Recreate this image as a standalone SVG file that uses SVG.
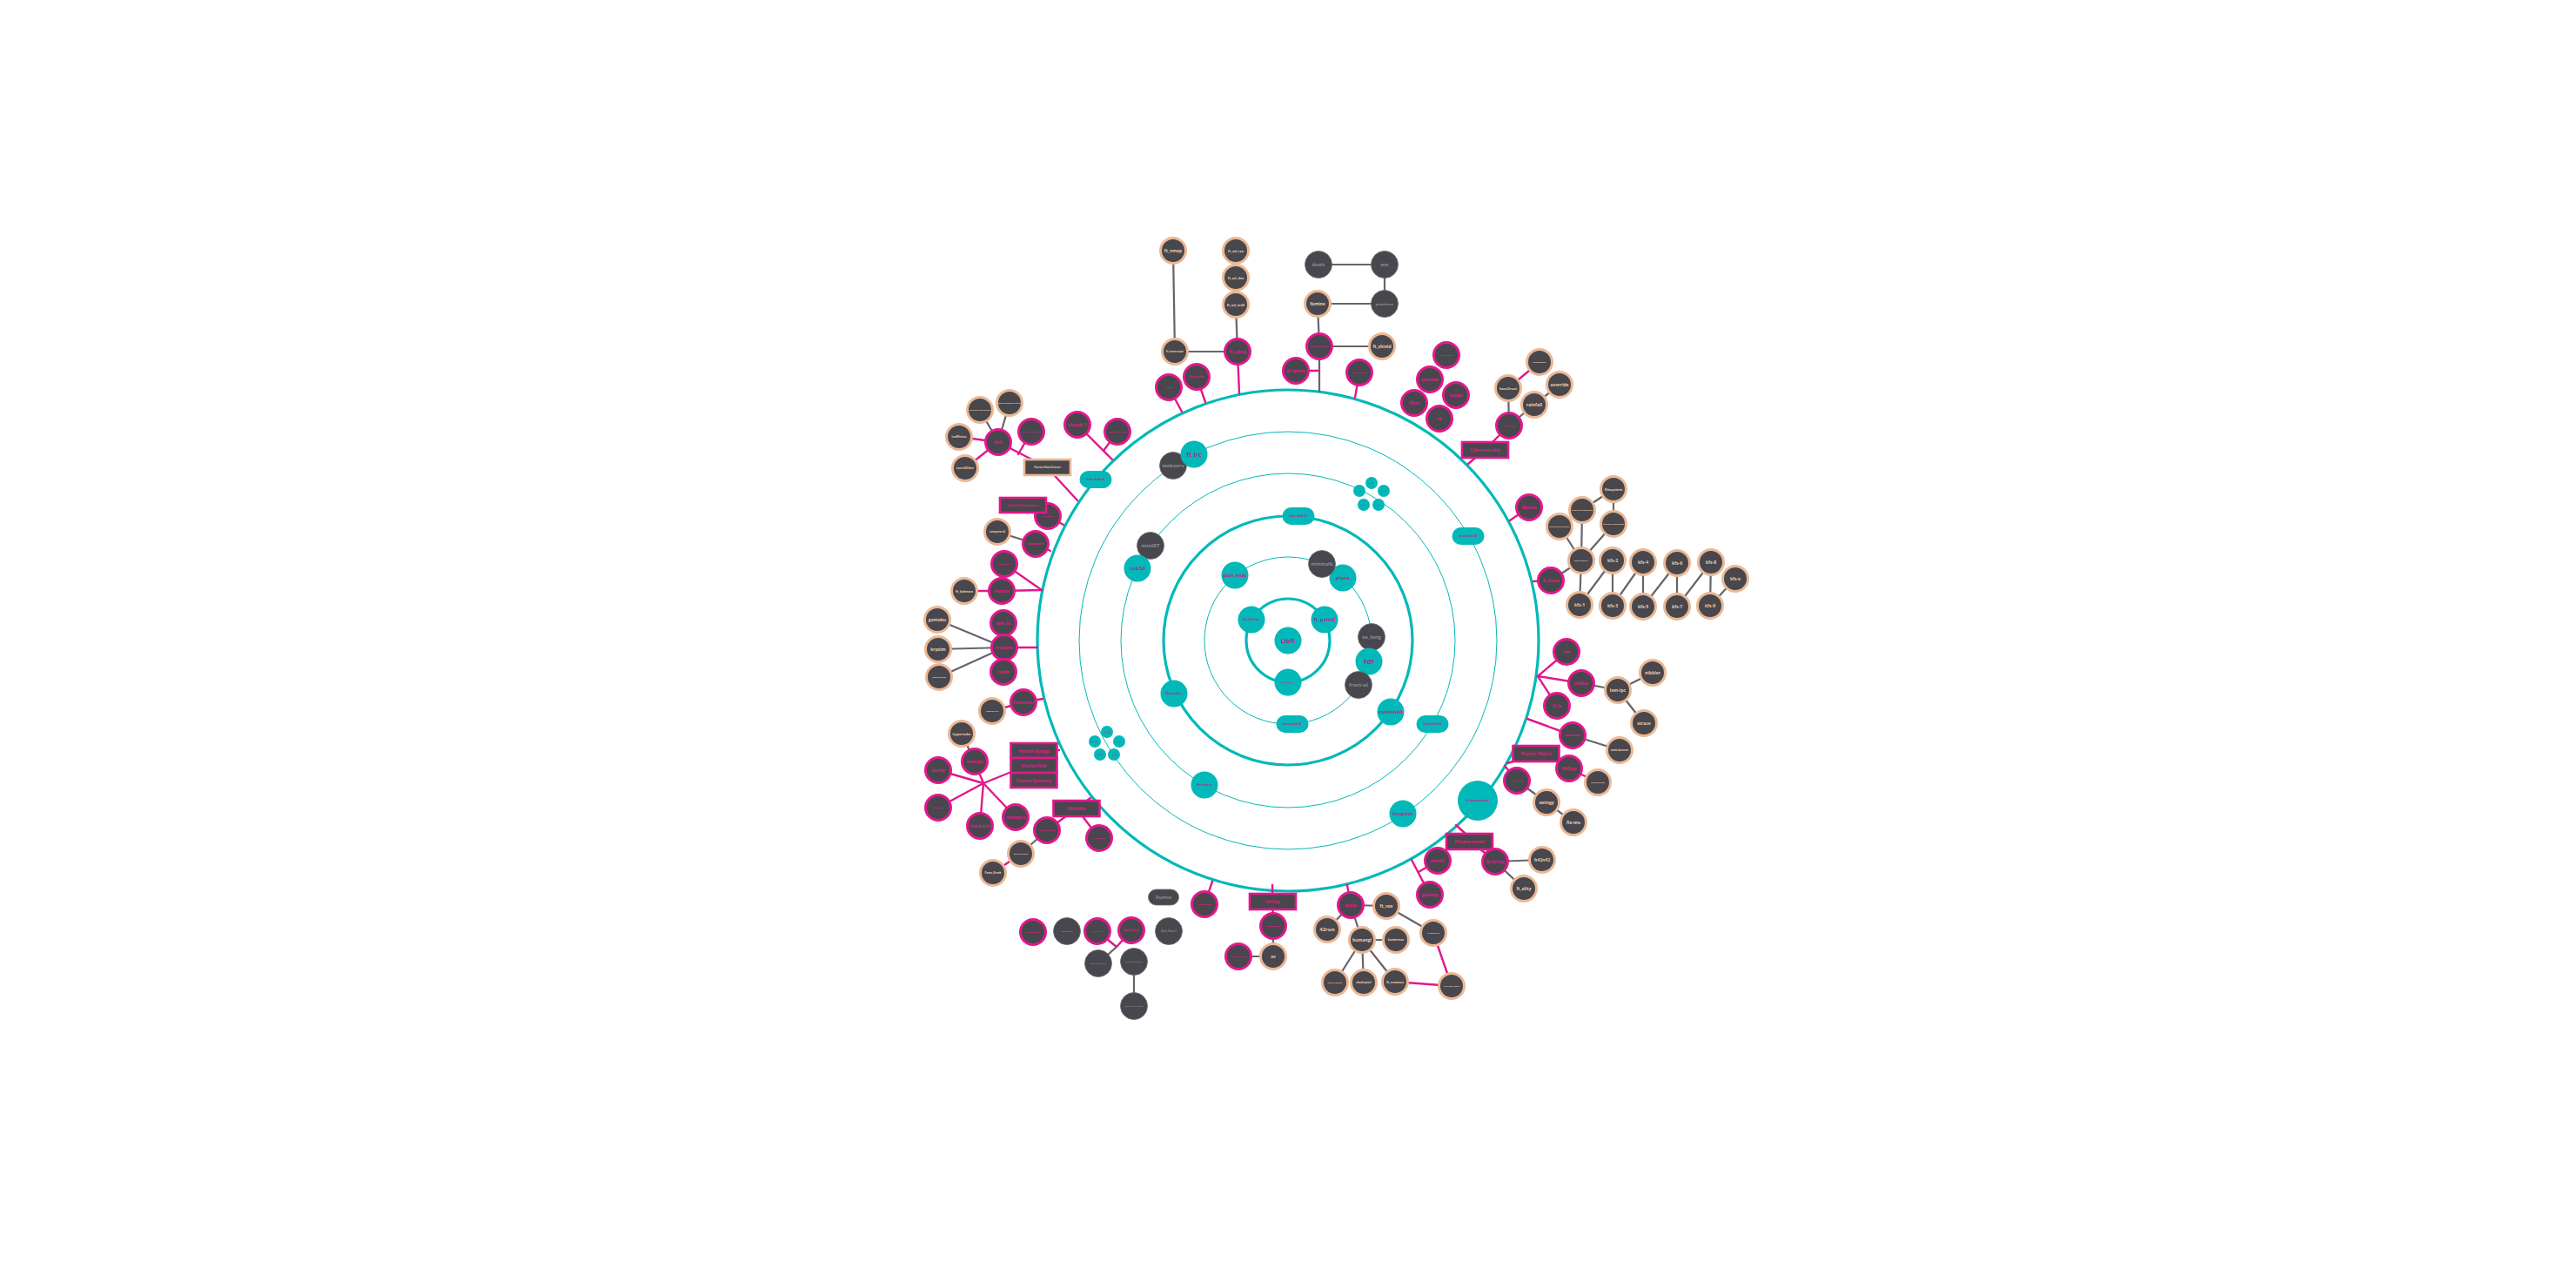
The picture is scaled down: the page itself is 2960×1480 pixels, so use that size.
<svg xmlns="http://www.w3.org/2000/svg" width="2960" height="1480" viewBox="0 0 2960 1480">
<style>
text{font-family:"Open Sans","Liberation Sans",sans-serif;font-weight:700;text-anchor:middle;dominant-baseline:central}
.bg{fill:#ffffff}
.ring{fill:none;stroke:#03b8b9}
.rk{stroke-width:3.2}
.rn{stroke-width:1}
.lp{stroke:#e2188c;stroke-width:2.4;fill:none;stroke-linecap:round}
.lg{stroke:#666569;stroke-width:2.2;fill:none;stroke-linecap:round}
.p{fill:#48474d;stroke:#e2188c;stroke-width:3}
.o{fill:#48474d;stroke:#ebb894;stroke-width:3}
.t{fill:#03b8b9}
.g{fill:#48474d;stroke:#6a696e;stroke-width:0.8}
.rp{fill:#48474d;stroke:#e2188c;stroke-width:2.6}
.ro{fill:#48474d;stroke:#ebb894;stroke-width:2.6}
.tp{fill:#e2188c}
.to{fill:#f0caa8}
.tt{fill:#c21a8a}
.tg{fill:#8d8c91}
.s7{font-size:7px}.s6{font-size:6px}.s5{font-size:5px}.s4{font-size:4px}.s3{font-size:3px}.s2{font-size:2.2px}
</style>
<rect class="bg" width="2960" height="1480"/>
<g id="rings">
<circle class="ring rk" cx="1480" cy="736" r="48"/>
<circle class="ring rn" cx="1480" cy="736" r="96"/>
<circle class="ring rk" cx="1480" cy="736" r="143"/>
<circle class="ring rn" cx="1480" cy="736" r="192"/>
<circle class="ring rn" cx="1480" cy="736" r="240"/>
<circle class="ring rk" cx="1480" cy="736" r="288"/>
</g>
<g id="connectors">
<!-- network -->
<line class="lg" x1="1348" y1="288" x2="1350" y2="404"/>
<line class="lg" x1="1350" y1="404" x2="1422" y2="404"/>
<line class="lg" x1="1420" y1="350" x2="1422" y2="404"/>
<line class="lp" x1="1422" y1="404" x2="1424" y2="452"/>
<line class="lp" x1="1343" y1="445" x2="1358" y2="473"/>
<line class="lp" x1="1375" y1="433" x2="1385" y2="462"/>
<!-- security -->
<line class="lg" x1="1515" y1="304" x2="1591" y2="304"/>
<line class="lg" x1="1591" y1="304" x2="1591" y2="349"/>
<line class="lg" x1="1514" y1="349" x2="1591" y2="349"/>
<line class="lg" x1="1514" y1="349" x2="1516" y2="398"/>
<line class="lg" x1="1516" y1="398" x2="1588" y2="398"/>
<line class="lg" x1="1516" y1="398" x2="1516" y2="450"/>
<line class="lp" x1="1489" y1="426" x2="1516" y2="426"/>
<line class="lp" x1="1562" y1="428" x2="1557" y2="457"/>
<!-- cybersecurity -->
<line class="lp" x1="1687" y1="533" x2="1706" y2="517"/>
<line class="lp" x1="1706" y1="517" x2="1734" y2="489"/>
<line class="lg" x1="1734" y1="489" x2="1733" y2="446"/>
<line class="lg" x1="1734" y1="489" x2="1763" y2="465"/>
<line class="lg" x1="1763" y1="465" x2="1792" y2="442"/>
<line class="lp" x1="1733" y1="446" x2="1769" y2="416"/>
<!-- kernel -->
<line class="lp" x1="1757" y1="583" x2="1735" y2="598"/>
<line class="lp" x1="1782" y1="667" x2="1762" y2="668"/>
<line class="lg" x1="1782" y1="667" x2="1817" y2="644"/>
<line class="lg" x1="1817" y1="644" x2="1792" y2="605"/>
<line class="lg" x1="1817" y1="644" x2="1818" y2="586"/>
<line class="lg" x1="1817" y1="644" x2="1854" y2="602"/>
<line class="lg" x1="1818" y1="586" x2="1854" y2="562"/>
<line class="lg" x1="1854" y1="562" x2="1854" y2="602"/>
<line class="lg" x1="1817" y1="644" x2="1815" y2="695"/>
<line class="lg" x1="1815" y1="695" x2="1853" y2="644"/>
<line class="lg" x1="1853" y1="644" x2="1853" y2="696"/>
<line class="lg" x1="1853" y1="696" x2="1888" y2="646"/>
<line class="lg" x1="1888" y1="646" x2="1888" y2="697"/>
<line class="lg" x1="1888" y1="697" x2="1927" y2="647"/>
<line class="lg" x1="1927" y1="647" x2="1927" y2="697"/>
<line class="lg" x1="1927" y1="697" x2="1966" y2="646"/>
<line class="lg" x1="1966" y1="646" x2="1965" y2="696"/>
<line class="lg" x1="1965" y1="696" x2="1994" y2="665"/>
<!-- unix -->
<line class="lp" x1="1767" y1="777" x2="1800" y2="749"/>
<line class="lp" x1="1767" y1="777" x2="1817" y2="785"/>
<line class="lp" x1="1767" y1="777" x2="1789" y2="811"/>
<line class="lg" x1="1817" y1="785" x2="1859" y2="793"/>
<line class="lg" x1="1859" y1="793" x2="1899" y2="773"/>
<line class="lg" x1="1859" y1="793" x2="1889" y2="831"/>
<line class="lp" x1="1755" y1="826" x2="1807" y2="845"/>
<line class="lg" x1="1807" y1="845" x2="1861" y2="862"/>
<!-- object / java -->
<line class="lp" x1="1732" y1="877" x2="1748" y2="872"/>
<line class="lp" x1="1790" y1="875" x2="1800" y2="880"/>
<line class="lp" x1="1803" y1="883" x2="1836" y2="899"/>
<line class="lp" x1="1729" y1="880" x2="1743" y2="897"/>
<line class="lg" x1="1743" y1="897" x2="1777" y2="922"/>
<line class="lg" x1="1777" y1="922" x2="1808" y2="945"/>
<!-- ocaml -->
<line class="lp" x1="1673" y1="948" x2="1684" y2="958"/>
<line class="lp" x1="1700" y1="975" x2="1718" y2="990"/>
<line class="lg" x1="1718" y1="990" x2="1772" y2="988"/>
<line class="lg" x1="1718" y1="990" x2="1751" y2="1021"/>
<!-- graphics -->
<line class="lp" x1="1622" y1="988" x2="1643" y2="1028"/>
<line class="lp" x1="1630" y1="1002" x2="1652" y2="989"/>
<line class="lp" x1="1548" y1="1017" x2="1552" y2="1040"/>
<line class="lg" x1="1552" y1="1040" x2="1593" y2="1041"/>
<line class="lg" x1="1552" y1="1040" x2="1525" y2="1068"/>
<line class="lg" x1="1552" y1="1040" x2="1565" y2="1080"/>
<line class="lg" x1="1565" y1="1080" x2="1604" y2="1080"/>
<line class="lg" x1="1565" y1="1080" x2="1534" y2="1129"/>
<line class="lg" x1="1565" y1="1080" x2="1567" y2="1129"/>
<line class="lg" x1="1565" y1="1080" x2="1603" y2="1128"/>
<line class="lg" x1="1593" y1="1041" x2="1647" y2="1072"/>
<line class="lp" x1="1647" y1="1072" x2="1668" y2="1133"/>
<line class="lp" x1="1603" y1="1128" x2="1668" y2="1133"/>
<!-- unity / open -->
<line class="lp" x1="1462" y1="1017" x2="1463" y2="1064"/>
<line class="lg" x1="1463" y1="1064" x2="1463" y2="1099"/>
<line class="lg" x1="1423" y1="1099" x2="1463" y2="1099"/>
<line class="lp" x1="1393" y1="1013" x2="1384" y2="1039"/>
<!-- internships -->
<line class="lp" x1="1261" y1="1070" x2="1283" y2="1088"/>
<line class="lp" x1="1300" y1="1069" x2="1283" y2="1088"/>
<line class="lg" x1="1283" y1="1088" x2="1262" y2="1107"/>
<line class="lg" x1="1303" y1="1105" x2="1303" y2="1156"/>
<!-- mobile -->
<line class="lp" x1="1253" y1="917" x2="1237" y2="929"/>
<line class="lp" x1="1237" y1="929" x2="1203" y2="954"/>
<line class="lp" x1="1237" y1="929" x2="1263" y2="963"/>
<line class="lg" x1="1203" y1="954" x2="1173" y2="981"/>
<line class="lp" x1="1173" y1="981" x2="1141" y2="1003"/>
<!-- web -->
<line class="lp" x1="1217" y1="862" x2="1188" y2="863"/>
<line class="lp" x1="1130" y1="900" x2="1162" y2="887"/>
<line class="lp" x1="1130" y1="900" x2="1078" y2="885"/>
<line class="lp" x1="1130" y1="900" x2="1120" y2="875"/>
<line class="lp" x1="1130" y1="900" x2="1078" y2="928"/>
<line class="lp" x1="1130" y1="900" x2="1126" y2="949"/>
<line class="lp" x1="1130" y1="900" x2="1167" y2="939"/>
<line class="lg" x1="1105" y1="843" x2="1120" y2="875"/>
<!-- tokenizer -->
<line class="lp" x1="1198" y1="803" x2="1176" y2="807"/>
<line class="lp" x1="1176" y1="807" x2="1140" y2="817"/>
<!-- algo / ai -->
<line class="lp" x1="1192" y1="744" x2="1154" y2="744"/>
<line class="lg" x1="1154" y1="744" x2="1077" y2="712"/>
<line class="lg" x1="1154" y1="744" x2="1078" y2="746"/>
<line class="lg" x1="1154" y1="744" x2="1079" y2="778"/>
<!-- math -->
<line class="lp" x1="1197" y1="678" x2="1151" y2="679"/>
<line class="lp" x1="1197" y1="678" x2="1154" y2="648"/>
<line class="lp" x1="1151" y1="679" x2="1108" y2="679"/>
<line class="lp" x1="1207" y1="633" x2="1190" y2="625"/>
<line class="lg" x1="1190" y1="625" x2="1146" y2="611"/>
<line class="lp" x1="1222" y1="603" x2="1204" y2="593"/>
<!-- data -->
<line class="lp" x1="1238" y1="575" x2="1203" y2="537"/>
<line class="lp" x1="1203" y1="537" x2="1147" y2="508"/>
<line class="lp" x1="1170" y1="522" x2="1185" y2="496"/>
<line class="lp" x1="1147" y1="508" x2="1102" y2="502"/>
<line class="lp" x1="1147" y1="508" x2="1109" y2="538"/>
<line class="lg" x1="1147" y1="508" x2="1126" y2="471"/>
<line class="lg" x1="1147" y1="508" x2="1160" y2="463"/>
<!-- cloud -->
<line class="lp" x1="1278" y1="528" x2="1238" y2="488"/>
<line class="lp" x1="1268" y1="518" x2="1284" y2="496"/>
</g>
<g id="node-exams">
<g id="exam-02"><rect class="t" x="1466.5" y="822" width="37" height="20" rx="10"/><text class="tt s3" x="1485" y="832">Exam Rank 02</text></g>
<g id="exam-03"><rect class="t" x="1473.5" y="583" width="37" height="20" rx="10"/><text class="tt s3" x="1492" y="593">Exam Rank 03</text></g>
<g id="exam-04"><rect class="t" x="1668.5" y="606" width="37" height="20" rx="10"/><text class="tt s3" x="1687" y="616">Exam Rank 04</text></g>
<g id="exam-05"><rect class="t" x="1627.5" y="822" width="37" height="20" rx="10"/><text class="tt s3" x="1646" y="832">Exam Rank 05</text></g>
<g id="exam-06"><rect class="t" x="1240.5" y="541" width="37" height="20" rx="10"/><text class="tt s3" x="1259" y="551">Exam Rank 06</text></g>
</g>
<g id="node-common-core">
<g id="libft"><circle class="t" cx="1480" cy="736" r="15.5"/><text class="tt s7" x="1480" y="736">Libft</text></g>
<g id="born2beroot"><circle class="t" cx="1438" cy="712" r="15.5"/><text class="tt s3" x="1438" y="712">Born2beroot</text></g>
<g id="ft_printf"><circle class="t" cx="1522" cy="712" r="15.5"/><text class="tt s6" x="1522" y="712">ft_printf</text></g>
<g id="gnl"><circle class="t" cx="1480" cy="784" r="15.5"/><text class="tt s2" x="1480" y="784">get_next_line</text></g>
<g id="push_swap"><circle class="t" cx="1419" cy="661" r="15.5"/><text class="tt s5" x="1419" y="661">push_swap</text></g>
<g id="pipex"><circle class="t" cx="1543" cy="664" r="15.5"/><text class="tt s6" x="1543" y="664">pipex</text></g>
<g id="minitalk"><circle class="g" cx="1519" cy="648" r="15.5"/><text class="tg s6" x="1519" y="648">minitalk</text></g>
<g id="so_long"><circle class="g" cx="1576" cy="732" r="15.5"/><text class="tg s6" x="1576" y="732">so_long</text></g>
<g id="fdf"><circle class="t" cx="1573" cy="760" r="15.5"/><text class="tt s7" x="1573" y="760">FdF</text></g>
<g id="fract-ol"><circle class="g" cx="1561" cy="787" r="15.5"/><text class="tg s6" x="1561" y="787">fract-ol</text></g>
<g id="minishell"><circle class="t" cx="1598" cy="818" r="15.5"/><text class="tt s6" x="1598" y="818">minishell</text></g>
<g id="philosophers"><circle class="t" cx="1349" cy="797" r="15.5"/><text class="tt s3" x="1349" y="797">Philosophers</text></g>
<g id="minirt"><circle class="g" cx="1322" cy="627" r="15.5"/><text class="tg s6" x="1322" y="627">miniRT</text></g>
<g id="cub3d"><circle class="t" cx="1307" cy="653" r="15.5"/><text class="tt s6" x="1307" y="653">cub3d</text></g>
<g id="netpractice"><circle class="t" cx="1384" cy="902" r="15.5"/><text class="tt s3" x="1384" y="902">NetPractice</text></g>
<g id="inception"><circle class="t" cx="1612" cy="935" r="15.5"/><text class="tt s5" x="1612" y="935">Inception</text></g>
<g id="webserv"><circle class="g" cx="1348" cy="535" r="15.5"/><text class="tg s6" x="1348" y="535">webserv</text></g>
<g id="ft_irc"><circle class="t" cx="1372" cy="522" r="15.5"/><text class="tt s7" x="1372" y="522">ft_irc</text></g>
<g id="ft_transcendence"><circle class="t" cx="1698" cy="920" r="23"/><text class="tt s3" x="1698" y="920">ft_transcendence</text></g>
</g>
<g id="node-cpp">
<g id="cpp00"><circle class="t" cx="1576" cy="555" r="7"/><text class="tt s2" x="1576" y="555">CPP 00</text></g>
<g id="cpp01"><circle class="t" cx="1562" cy="564" r="7"/><text class="tt s2" x="1562" y="564">CPP 01</text></g>
<g id="cpp02"><circle class="t" cx="1590" cy="564" r="7"/><text class="tt s2" x="1590" y="564">CPP 02</text></g>
<g id="cpp03"><circle class="t" cx="1567" cy="580" r="7"/><text class="tt s2" x="1567" y="580">CPP 03</text></g>
<g id="cpp04"><circle class="t" cx="1584" cy="580" r="7"/><text class="tt s2" x="1584" y="580">CPP 04</text></g>
<g id="cpp05"><circle class="t" cx="1272" cy="841" r="7"/><text class="tt s2" x="1272" y="841">CPP 05</text></g>
<g id="cpp06"><circle class="t" cx="1258" cy="852" r="7"/><text class="tt s2" x="1258" y="852">CPP 06</text></g>
<g id="cpp07"><circle class="t" cx="1286" cy="852" r="7"/><text class="tt s2" x="1286" y="852">CPP 07</text></g>
<g id="cpp08"><circle class="t" cx="1264" cy="867" r="7"/><text class="tt s2" x="1264" y="867">CPP 08</text></g>
<g id="cpp09"><circle class="t" cx="1280" cy="867" r="7"/><text class="tt s2" x="1280" y="867">CPP 09</text></g>
</g>
<g id="node-network">
<g id="ft_nmap"><circle class="o" cx="1348" cy="288" r="14.5"/><text class="to s5" x="1348" y="288">ft_nmap</text></g>
<g id="ft_traceroute"><circle class="o" cx="1350" cy="404" r="14.5"/><text class="to s3" x="1350" y="404">ft_traceroute</text></g>
<g id="ft_ssl_rsa"><circle class="o" cx="1420" cy="288" r="14.5"/><text class="to s4" x="1420" y="288">ft_ssl_rsa</text></g>
<g id="ft_ssl_des"><circle class="o" cx="1420" cy="319" r="14.5"/><text class="to s4" x="1420" y="319">ft_ssl_des</text></g>
<g id="ft_ssl_md5"><circle class="o" cx="1420" cy="350" r="14.5"/><text class="to s4" x="1420" y="350">ft_ssl_md5</text></g>
<g id="ft_ping"><circle class="p" cx="1422" cy="404" r="14.5"/><text class="tp s6" x="1422" y="404">ft_ping</text></g>
<g id="ft_onion"><circle class="p" cx="1343" cy="445" r="14.5"/><text class="tp s2" x="1343" y="445">ft_onion</text></g>
<g id="ft_malcolm"><circle class="p" cx="1375" cy="433" r="14.5"/><text class="tp s3" x="1375" y="433">ft_malcolm</text></g>
</g>
<g id="node-security">
<g id="death"><circle class="g" cx="1515" cy="304" r="15.5"/><text class="tg s5" x="1515" y="304">death</text></g>
<g id="war"><circle class="g" cx="1591" cy="304" r="15.5"/><text class="tg s5" x="1591" y="304">war</text></g>
<g id="pestilence"><circle class="g" cx="1591" cy="349" r="15.5"/><text class="tg s4" x="1591" y="349">pestilence</text></g>
<g id="famine"><circle class="o" cx="1514" cy="349" r="14.5"/><text class="to s5" x="1514" y="349">famine</text></g>
<g id="woody"><circle class="p" cx="1516" cy="398" r="14.5"/><text class="tp s2" x="1516" y="398">woody-woodpacker</text></g>
<g id="ft_shield"><circle class="o" cx="1588" cy="398" r="14.5"/><text class="to s5" x="1588" y="398">ft_shield</text></g>
<g id="dr-quine"><circle class="p" cx="1489" cy="426" r="14.5"/><text class="tp s5" x="1489" y="426">dr-quine</text></g>
<g id="malware"><circle class="p" cx="1562" cy="428" r="14.5"/><text class="tp s2" x="1562" y="428">malg-readery</text></g>
</g>
<g id="node-legacy">
<g id="doom-nukem"><circle class="p" cx="1662" cy="408" r="14.5"/><text class="tp s2" x="1662" y="408">doom-nukem</text></g>
<g id="corewar"><circle class="p" cx="1643" cy="436" r="14.5"/><text class="tp s5" x="1643" y="436">corewar</text></g>
<g id="zappy"><circle class="p" cx="1673" cy="454" r="14.5"/><text class="tp s5" x="1673" y="454">zappy</text></g>
<g id="42sh"><circle class="p" cx="1625" cy="463" r="14.5"/><text class="tp s5" x="1625" y="463">42sh</text></g>
<g id="rt"><circle class="p" cx="1654" cy="481" r="14.5"/><text class="tp s5" x="1654" y="481">rt</text></g>
</g>
<g id="node-cyber">
<g id="cybersecurity"><rect class="rp" x="1680" y="508" width="53" height="18"/><text class="tp s5" x="1706.5" y="517">Cybersecurity</text></g>
<g id="snow-crash"><circle class="p" cx="1734" cy="489" r="14.5"/><text class="tp s2" x="1734" y="489">snow-crash</text></g>
<g id="boot2root"><circle class="o" cx="1733" cy="446" r="14.5"/><text class="to s4" x="1733" y="446">boot2root</text></g>
<g id="rainfall"><circle class="o" cx="1763" cy="465" r="14.5"/><text class="to s5" x="1763" y="465">rainfall</text></g>
<g id="override"><circle class="o" cx="1792" cy="442" r="14.5"/><text class="to s5" x="1792" y="442">override</text></g>
<g id="rainbow"><circle class="o" cx="1769" cy="416" r="14.5"/><text class="to s2" x="1769" y="416">RainbowTable</text></g>
</g>
<g id="node-kernel">
<g id="libasm"><circle class="p" cx="1757" cy="583" r="14.5"/><text class="tp s5" x="1757" y="583">libasm</text></g>
<g id="ft_linux"><circle class="p" cx="1782" cy="667" r="14.5"/><text class="tp s5" x="1782" y="667">ft_linux</text></g>
<g id="little-penguin"><circle class="o" cx="1817" cy="644" r="14.5"/><text class="to s2" x="1817" y="644">little-penguin-1</text></g>
<g id="filesystem"><circle class="o" cx="1854" cy="562" r="14.5"/><text class="to s4" x="1854" y="562">filesystem</text></g>
<g id="drivers"><circle class="o" cx="1818" cy="586" r="14.5"/><text class="to s2" x="1818" y="586">drivers-and-interrupts</text></g>
<g id="process"><circle class="o" cx="1792" cy="605" r="14.5"/><text class="to s2" x="1792" y="605">process-and-memory</text></g>
<g id="userspace"><circle class="o" cx="1854" cy="602" r="14.5"/><text class="to s2" x="1854" y="602">userspace_digressions</text></g>
<g id="kfs-1"><circle class="o" cx="1815" cy="695" r="14.5"/><text class="to s5" x="1815" y="695">kfs-1</text></g>
<g id="kfs-2"><circle class="o" cx="1853" cy="644" r="14.5"/><text class="to s5" x="1853" y="644">kfs-2</text></g>
<g id="kfs-3"><circle class="o" cx="1853" cy="696" r="14.5"/><text class="to s5" x="1853" y="696">kfs-3</text></g>
<g id="kfs-4"><circle class="o" cx="1888" cy="646" r="14.5"/><text class="to s5" x="1888" y="646">kfs-4</text></g>
<g id="kfs-5"><circle class="o" cx="1888" cy="697" r="14.5"/><text class="to s5" x="1888" y="697">kfs-5</text></g>
<g id="kfs-6"><circle class="o" cx="1927" cy="647" r="14.5"/><text class="to s5" x="1927" y="647">kfs-6</text></g>
<g id="kfs-7"><circle class="o" cx="1927" cy="697" r="14.5"/><text class="to s5" x="1927" y="697">kfs-7</text></g>
<g id="kfs-8"><circle class="o" cx="1966" cy="646" r="14.5"/><text class="to s5" x="1966" y="646">kfs-8</text></g>
<g id="kfs-9"><circle class="o" cx="1965" cy="696" r="14.5"/><text class="to s5" x="1965" y="696">kfs-9</text></g>
<g id="kfs-x"><circle class="o" cx="1994" cy="665" r="14.5"/><text class="to s5" x="1994" y="665">kfs-x</text></g>
</g>
<g id="node-unix">
<g id="nm"><circle class="p" cx="1800" cy="749" r="14.5"/><text class="tp s5" x="1800" y="749">nm</text></g>
<g id="malloc"><circle class="p" cx="1817" cy="785" r="14.5"/><text class="tp s5" x="1817" y="785">malloc</text></g>
<g id="ft_ls"><circle class="p" cx="1789" cy="811" r="14.5"/><text class="tp s5" x="1789" y="811">ft_ls</text></g>
<g id="lem-ipc"><circle class="o" cx="1859" cy="793" r="14.5"/><text class="to s5" x="1859" y="793">lem-ipc</text></g>
<g id="nibbler"><circle class="o" cx="1899" cy="773" r="14.5"/><text class="to s5" x="1899" y="773">nibbler</text></g>
<g id="strace"><circle class="o" cx="1889" cy="831" r="14.5"/><text class="to s5" x="1889" y="831">strace</text></g>
<g id="taskmaster"><circle class="p" cx="1807" cy="845" r="14.5"/><text class="tp s3" x="1807" y="845">taskmaster</text></g>
<g id="matt-daemon"><circle class="o" cx="1861" cy="862" r="14.5"/><text class="to s3" x="1861" y="862">matt-daemon</text></g>
</g>
<g id="node-object">
<g id="piscine-object"><rect class="rp" x="1738.5" y="857" width="53" height="18"/><text class="tp s5" x="1765" y="866">Piscine Object</text></g>
<g id="libftpp"><circle class="p" cx="1803" cy="883" r="14.5"/><text class="tp s5" x="1803" y="883">libftpp</text></g>
<g id="extract_data"><circle class="o" cx="1836" cy="899" r="14.5"/><text class="to s2" x="1836" y="899">@extract_data</text></g>
<g id="avaj-launcher"><circle class="p" cx="1743" cy="897" r="14.5"/><text class="tp s2" x="1743" y="897">avaj-launcher</text></g>
<g id="swingy"><circle class="o" cx="1777" cy="922" r="14.5"/><text class="to s5" x="1777" y="922">swingy</text></g>
<g id="fix-me"><circle class="o" cx="1808" cy="945" r="14.5"/><text class="to s5" x="1808" y="945">fix-me</text></g>
</g>
<g id="node-ocaml">
<g id="piscine-ocaml"><rect class="rp" x="1662" y="958" width="53" height="18"/><text class="tp s5" x="1688.5" y="967">Piscine ocaml</text></g>
<g id="ft_turing"><circle class="p" cx="1718" cy="990" r="14.5"/><text class="tp s5" x="1718" y="990">ft_turing</text></g>
<g id="h42n42"><circle class="o" cx="1772" cy="988" r="14.5"/><text class="to s5" x="1772" y="988">h42n42</text></g>
<g id="ft_ality"><circle class="o" cx="1751" cy="1021" r="14.5"/><text class="to s5" x="1751" y="1021">ft_ality</text></g>
</g>
<g id="node-graphics">
<g id="mod1"><circle class="p" cx="1652" cy="989" r="14.5"/><text class="tp s6" x="1652" y="989">mod1</text></g>
<g id="guimp"><circle class="p" cx="1643" cy="1028" r="14.5"/><text class="tp s6" x="1643" y="1028">guimp</text></g>
<g id="scop"><circle class="p" cx="1552" cy="1040" r="14.5"/><text class="tp s6" x="1552" y="1040">scop</text></g>
<g id="ft_vox"><circle class="o" cx="1593" cy="1041" r="14.5"/><text class="to s5" x="1593" y="1041">ft_vox</text></g>
<g id="42run"><circle class="o" cx="1525" cy="1068" r="14.5"/><text class="to s6" x="1525" y="1068">42run</text></g>
<g id="humangl"><circle class="o" cx="1565" cy="1080" r="14.5"/><text class="to s5" x="1565" y="1080">humangl</text></g>
<g id="bomberman"><circle class="o" cx="1604" cy="1080" r="14.5"/><text class="to s3" x="1604" y="1080">bomberman</text></g>
<g id="ft_minecraft"><circle class="o" cx="1647" cy="1072" r="14.5"/><text class="to s2" x="1647" y="1072">ft_minecraft</text></g>
<g id="particle-system"><circle class="o" cx="1534" cy="1129" r="14.5"/><text class="to s2" x="1534" y="1129">particle-system</text></g>
<g id="shaderpixel"><circle class="o" cx="1567" cy="1129" r="14.5"/><text class="to s3" x="1567" y="1129">shaderpixel</text></g>
<g id="ft_newton"><circle class="o" cx="1603" cy="1128" r="14.5"/><text class="to s4" x="1603" y="1128">ft_newton</text></g>
<g id="real-engine"><circle class="o" cx="1668" cy="1133" r="14.5"/><text class="to s2" x="1668" y="1133">Tiny_Real_Engine</text></g>
</g>
<g id="node-unity">
<g id="unity"><rect class="rp" x="1436" y="1027" width="53" height="18"/><text class="tp s6" x="1462.5" y="1036">Unity</text></g>
<g id="in-the-shadows"><circle class="p" cx="1463" cy="1064" r="14.5"/><text class="tp s2" x="1463" y="1064">in-the-shadows</text></g>
<g id="xv"><circle class="o" cx="1463" cy="1099" r="14.5"/><text class="to s5" x="1463" y="1099">xv</text></g>
<g id="bubble"><circle class="p" cx="1423" cy="1099" r="14.5"/><text class="tp s2" x="1423" y="1099">bubble_memory</text></g>
<g id="open-projects"><circle class="p" cx="1384" cy="1039" r="14.5"/><text class="tp s2" x="1384" y="1039">Open Projects</text></g>
</g>
<g id="node-pro">
<g id="rushes"><rect class="g" x="1319.5" y="1022" width="35" height="18" rx="9"/><text class="tg s5" x="1337" y="1031">Rushes</text></g>
<g id="apprenticeship"><circle class="p" cx="1187" cy="1071" r="14.5"/><text class="tp s2" x="1187" y="1071">Apprenticeship</text></g>
<g id="internship-2"><circle class="g" cx="1226" cy="1070" r="15.5"/><text class="tg s2" x="1226" y="1070">Internship II</text></g>
<g id="internship-1"><circle class="p" cx="1261" cy="1070" r="14.5"/><text class="tp s2" x="1261" y="1070">Internship I</text></g>
<g id="part-time-1"><circle class="p" cx="1300" cy="1069" r="14.5"/><text class="tp s3" x="1300" y="1069">Part_Time I</text></g>
<g id="part-time-2"><circle class="g" cx="1343" cy="1070" r="15.5"/><text class="tg s3" x="1343" y="1070">Part_Time II</text></g>
<g id="work-1"><circle class="g" cx="1262" cy="1107" r="15.5"/><text class="tg s2" x="1262" y="1107">Work Experience I</text></g>
<g id="work-2"><circle class="g" cx="1303" cy="1105" r="15.5"/><text class="tg s2" x="1303" y="1105">Work Experience II</text></g>
<g id="startup"><circle class="g" cx="1303" cy="1156" r="15.5"/><text class="tg s2" x="1303" y="1156">Startup Experience</text></g>
</g>
<g id="node-mobile">
<g id="mobile"><rect class="rp" x="1210.5" y="920" width="53" height="18"/><text class="tp s6" x="1237" y="929">Mobile</text></g>
<g id="swifty-companion"><circle class="p" cx="1203" cy="954" r="14.5"/><text class="tp s2" x="1203" y="954">swifty-companion</text></g>
<g id="swifty-proteins"><circle class="o" cx="1173" cy="981" r="14.5"/><text class="to s2" x="1173" y="981">swifty-proteins</text></g>
<g id="peace-break"><circle class="o" cx="1141" cy="1003" r="14.5"/><text class="to s3" x="1141" y="1003">Peace_Break</text></g>
<g id="ft_hangouts"><circle class="p" cx="1263" cy="963" r="14.5"/><text class="tp s2" x="1263" y="963">ft_hangouts</text></g>
</g>
<g id="node-web">
<g id="piscine-django"><rect class="rp" x="1161.5" y="854" width="53" height="17"/><text class="tp s5" x="1188" y="862.5">Piscine Django</text></g>
<g id="piscine-ror"><rect class="rp" x="1161.5" y="871" width="53" height="17"/><text class="tp s5" x="1188" y="879.5">Piscine RoR</text></g>
<g id="piscine-symfony"><rect class="rp" x="1161.5" y="888" width="53" height="17"/><text class="tp s5" x="1188" y="896.5">Piscine Symfony</text></g>
<g id="darkly"><circle class="p" cx="1078" cy="885" r="14.5"/><text class="tp s5" x="1078" y="885">darkly</text></g>
<g id="matcha"><circle class="p" cx="1120" cy="875" r="14.5"/><text class="tp s5" x="1120" y="875">matcha</text></g>
<g id="hypertube"><circle class="o" cx="1105" cy="843" r="14.5"/><text class="to s4" x="1105" y="843">hypertube</text></g>
<g id="music-room"><circle class="p" cx="1078" cy="928" r="14.5"/><text class="tp s2" x="1078" y="928">music-room</text></g>
<g id="red-tetris"><circle class="p" cx="1126" cy="949" r="14.5"/><text class="tp s5" x="1126" y="949">red-tetris</text></g>
<g id="camagru"><circle class="p" cx="1167" cy="939" r="14.5"/><text class="tp s5" x="1167" y="939">camagru</text></g>
</g>
<g id="node-ai">
<g id="tokenizer"><circle class="p" cx="1176" cy="807" r="14.5"/><text class="tp s5" x="1176" y="807">Tokenizer</text></g>
<g id="tokenizerart"><circle class="o" cx="1140" cy="817" r="14.5"/><text class="to s2" x="1140" y="817">TokenizerArt</text></g>
<g id="lem_in"><circle class="p" cx="1153" cy="716" r="14.5"/><text class="tp s5" x="1153" y="716">lem_in</text></g>
<g id="n-puzzle"><circle class="p" cx="1154" cy="744" r="14.5"/><text class="tp s5" x="1154" y="744">n-puzzle</text></g>
<g id="rubik"><circle class="p" cx="1153" cy="772" r="14.5"/><text class="tp s5" x="1153" y="772">rubik</text></g>
<g id="gomoku"><circle class="o" cx="1077" cy="712" r="14.5"/><text class="to s5" x="1077" y="712">gomoku</text></g>
<g id="krpsim"><circle class="o" cx="1078" cy="746" r="14.5"/><text class="to s5" x="1078" y="746">krpsim</text></g>
<g id="expert-system"><circle class="o" cx="1079" cy="778" r="14.5"/><text class="to s2" x="1079" y="778">expert-system</text></g>
<g id="matrix"><circle class="p" cx="1151" cy="679" r="14.5"/><text class="tp s5" x="1151" y="679">matrix</text></g>
<g id="ready-set-boole"><circle class="p" cx="1154" cy="648" r="14.5"/><text class="tp s2" x="1154" y="648">ready set boole</text></g>
<g id="ft_kalman"><circle class="o" cx="1108" cy="679" r="14.5"/><text class="to s4" x="1108" y="679">ft_kalman</text></g>
<g id="computorv1"><circle class="p" cx="1190" cy="625" r="14.5"/><text class="tp s3" x="1190" y="625">computorv1</text></g>
<g id="computorv2"><circle class="o" cx="1146" cy="611" r="14.5"/><text class="to s3" x="1146" y="611">computorv2</text></g>
<g id="ft_quantum"><circle class="p" cx="1204" cy="593" r="14.5"/><text class="tp s2" x="1204" y="593">ft_quantum</text></g>
<g id="python-ds"><rect class="rp" x="1149" y="572" width="53" height="17"/><text class="tp s3" x="1175.5" y="580.5">Python for Data Science</text></g>
</g>
<g id="node-data">
<g id="piscine-ds"><rect class="ro" x="1177" y="528" width="53" height="18"/><text class="to s3" x="1203.5" y="537">Piscine Data Science</text></g>
<g id="dslr"><circle class="p" cx="1147" cy="508" r="14.5"/><text class="tp s5" x="1147" y="508">dslr</text></g>
<g id="ft_linear_regression"><circle class="p" cx="1185" cy="496" r="14.5"/><text class="tp s2" x="1185" y="496">ft_linear_regression</text></g>
<g id="multilayer"><circle class="o" cx="1126" cy="471" r="14.5"/><text class="to s2" x="1126" y="471">multilayer-perceptron</text></g>
<g id="tpv"><circle class="o" cx="1160" cy="463" r="14.5"/><text class="to s2" x="1160" y="463">total-perspective-vortex</text></g>
<g id="leaffliction"><circle class="o" cx="1102" cy="502" r="14.5"/><text class="to s3" x="1102" y="502">Leaffliction</text></g>
<g id="learn2slither"><circle class="o" cx="1109" cy="538" r="14.5"/><text class="to s3" x="1109" y="538">Learn2Slither</text></g>
<g id="cloud-1"><circle class="p" cx="1238" cy="488" r="14.5"/><text class="tp s6" x="1238" y="488">cloud-1</text></g>
<g id="iot"><circle class="p" cx="1284" cy="496" r="14.5"/><text class="tp s2" x="1284" y="496">Inception-of-Things</text></g>
</g>
</svg>
